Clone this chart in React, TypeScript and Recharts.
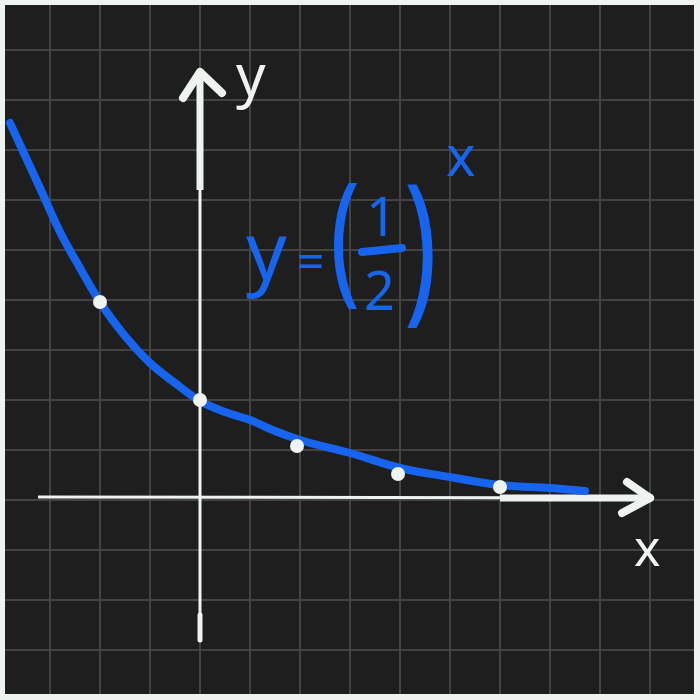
import React from "react";
import {
  ComposedChart,
  Line,
  Scatter,
  XAxis,
  YAxis,
  CartesianGrid,
  ReferenceLine,
  Customized,
} from "recharts";

// hand-drawn curve y = (1/2)^x
const CURVE_X = [-1.9, -1.6, -1.4, -1.2, -1.0, -0.75, -0.5, -0.25, 0, 0.25, 0.5, 0.75, 1.0, 1.5, 2.0, 2.5, 3.0, 3.5, 3.85];
const CURVE_Y = [3.77, 3.12, 2.68, 2.32, 1.98, 1.64, 1.37, 1.17, 0.99, 0.88, 0.8, 0.69, 0.6, 0.47, 0.32, 0.23, 0.15, 0.12, 0.09];

// white marked points
const POINT_X = [-1, 0, 0.97, 1.98, 3.0];
const POINT_Y = [1.98, 1.0, 0.54, 0.26, 0.13];

// grid every half unit
const GRID_X = [-2, -1.5, -1, -0.5, 0, 0.5, 1, 1.5, 2, 2.5, 3, 3.5, 4, 4.5, 5];
const GRID_Y = [-2, -1.5, -1, -0.5, 0, 0.5, 1, 1.5, 2, 2.5, 3, 3.5, 4, 4.5, 5];

const BLUE = "#1765ef";
const CHALK = "#eef3f0";
const FONT = "'Noto Sans', 'DejaVu Sans', sans-serif";

const curveData = CURVE_X.map((x, i) => ({ x, y: CURVE_Y[i] }));
const pointData = POINT_X.map((x, i) => ({ x, y: POINT_Y[i] }));

function Handwriting() {
  return (
    <g fontFamily={FONT}>
      <text x={236} y={96} fontSize={58} fill={CHALK}>y</text>
      <text x={634} y={566} fontSize={50} fill={CHALK}>x</text>
      <g fill={BLUE}>
        <text x={246} y={280} fontSize={80}>y</text>
        <text x={297} y={278} fontSize={48}>=</text>
        <text transform="translate(330,286) scale(1,1.45)" fontSize={100}>(</text>
        <text x={366} y={236} fontSize={54}>1</text>
        <text x={364} y={310} fontSize={54}>2</text>
        <text transform="translate(404,302) scale(1.1,1.65)" fontSize={100}>)</text>
        <text x={446} y={176} fontSize={56}>x</text>
      </g>
      <line x1={362} y1={252} x2={402} y2={248} stroke={BLUE} strokeWidth={8} strokeLinecap="round" />
    </g>
  );
}

function Dot(props: { cx?: number; cy?: number }) {
  return <circle cx={props.cx} cy={props.cy} r={7} fill={CHALK} />;
}

export default function App() {
  return (
    <div style={{ position: "absolute", left: 0, top: 0, width: 700, height: 700, background: "#1e1e1e" }}>
      <ComposedChart width={700} height={700} margin={{ top: 0, right: 0, bottom: 0, left: 0 }}>
        <CartesianGrid
          stroke="#434343"
          strokeWidth={2}
          verticalValues={GRID_X}
          horizontalValues={GRID_Y}
        />
        <XAxis type="number" dataKey="x" domain={[-2, 5]} ticks={GRID_X} hide allowDataOverflow />
        <YAxis type="number" dataKey="y" domain={[-2, 5]} ticks={GRID_Y} hide allowDataOverflow />
        {/* axes drawn as chalk strokes */}
        <ReferenceLine segment={[{ x: -1.62, y: 0.03 }, { x: 4.5, y: 0.02 }]} stroke={CHALK} strokeWidth={3} />
        <ReferenceLine segment={[{ x: 3.0, y: 0.02 }, { x: 4.5, y: 0.02 }]} stroke={CHALK} strokeWidth={7} />
        <ReferenceLine segment={[{ x: 4.5, y: 0.02 }, { x: 4.27, y: 0.18 }]} stroke={CHALK} strokeWidth={8} strokeLinecap="round" />
        <ReferenceLine segment={[{ x: 4.5, y: 0.02 }, { x: 4.22, y: -0.13 }]} stroke={CHALK} strokeWidth={8} strokeLinecap="round" />
        <ReferenceLine segment={[{ x: 0, y: -1.4 }, { x: 0, y: 4.28 }]} stroke={CHALK} strokeWidth={3} />
        <ReferenceLine segment={[{ x: 0, y: -1.15 }, { x: 0, y: -1.4 }]} stroke={CHALK} strokeWidth={5} strokeLinecap="round" />
        <ReferenceLine segment={[{ x: 0, y: 3.1 }, { x: 0, y: 4.28 }]} stroke={CHALK} strokeWidth={7} />
        <ReferenceLine segment={[{ x: 0, y: 4.28 }, { x: -0.17, y: 4.02 }]} stroke={CHALK} strokeWidth={8} strokeLinecap="round" />
        <ReferenceLine segment={[{ x: 0, y: 4.28 }, { x: 0.22, y: 4.07 }]} stroke={CHALK} strokeWidth={8} strokeLinecap="round" />
        <Scatter data={pointData} dataKey="y" shape={<Dot />} isAnimationActive={false} />
        <Line
          data={curveData}
          dataKey="y"
          type="monotone"
          stroke={BLUE}
          strokeWidth={8}
          strokeLinecap="round"
          dot={false}
          activeDot={false}
          isAnimationActive={false}
        />
        <Customized component={<Handwriting />} />
      </ComposedChart>
      <div
        style={{
          position: "absolute",
          left: 0,
          top: 0,
          width: 700,
          height: 700,
          boxSizing: "border-box",
          borderTop: `5px solid ${CHALK}`,
          borderLeft: `5px solid ${CHALK}`,
          borderRight: `6px solid ${CHALK}`,
          borderBottom: `6px solid ${CHALK}`,
          pointerEvents: "none",
        }}
      />
    </div>
  );
}
